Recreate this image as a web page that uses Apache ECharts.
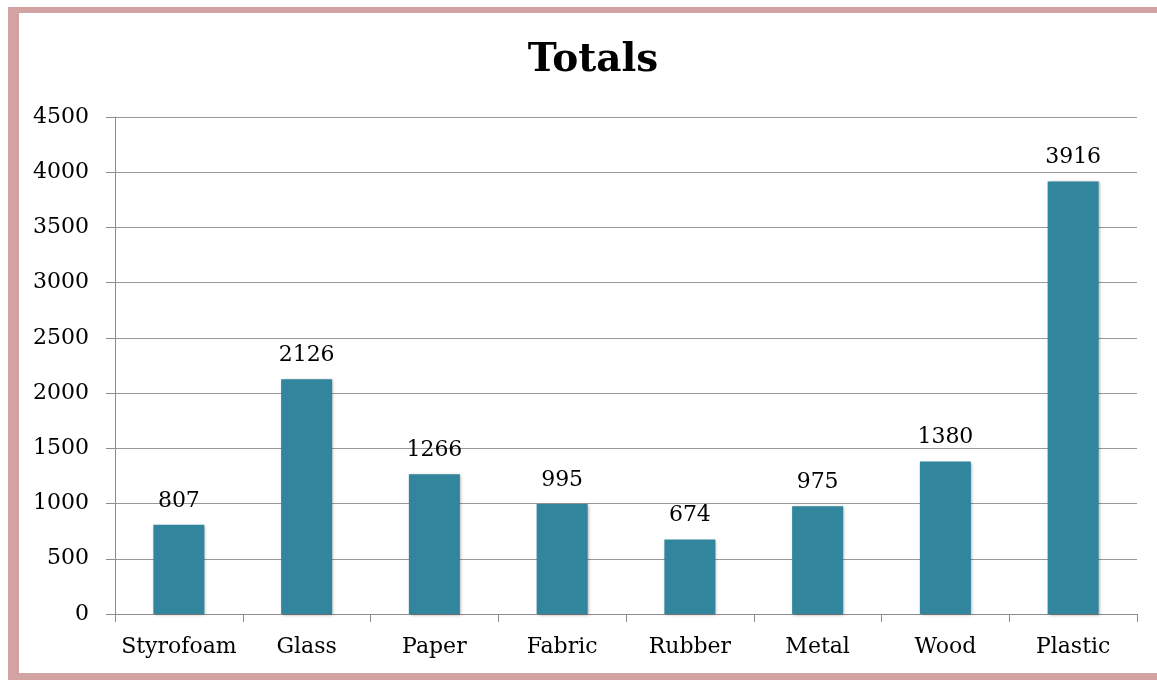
<!DOCTYPE html>
<html>
<head>
<meta charset="utf-8">
<script src="https://cdn.jsdelivr.net/npm/echarts@6/dist/echarts.min.js"></script>
<style>
  html, body { margin: 0; padding: 0; background: #ffffff; }
  #chart { width: 1157px; height: 680px; }
</style>
</head>
<body>
<div id="chart"></div>
<script>
// Material categories and their totals
const categories = ['Styrofoam', 'Glass', 'Paper', 'Fabric', 'Rubber', 'Metal', 'Wood', 'Plastic'];
const totals = [807, 2126, 1266, 995, 674, 975, 1380, 3916];
const yTicks = { min: 0, max: 4500, step: 500 };

const FONT = '"DejaVu Serif", serif';
const frameColor = '#d3a3a3';

const chart = echarts.init(document.getElementById('chart'), null, { renderer: 'canvas' });

chart.setOption({
  backgroundColor: '#ffffff',
  animation: false,
  title: {
    text: 'Totals',
    left: 588,
    top: 36,
    textAlign: 'center',
    textStyle: { fontFamily: FONT, fontWeight: 'bold', fontSize: 39, color: '#000000' }
  },
  // pink frame along the left, top and bottom edges
  graphic: [
    { type: 'rect', shape: { x: 8, y: 7, width: 11, height: 673 }, style: { fill: frameColor }, silent: true },
    { type: 'rect', shape: { x: 8, y: 7, width: 1149, height: 6 }, style: { fill: frameColor }, silent: true },
    { type: 'rect', shape: { x: 8, y: 673, width: 1149, height: 7 }, style: { fill: frameColor }, silent: true }
  ],
  grid: { left: 115, right: 20, top: 117, bottom: 66, containLabel: false },
  xAxis: {
    type: 'category',
    data: categories,
    axisLine: { show: true, lineStyle: { color: '#8c8c8c', width: 1 } },
    axisTick: { show: true, interval: 0, alignWithLabel: false, length: 8, lineStyle: { color: '#8c8c8c' } },
    axisLabel: { interval: 0, fontFamily: FONT, fontSize: 22, color: '#000000', margin: 22 }
  },
  yAxis: {
    type: 'value',
    min: yTicks.min,
    max: yTicks.max,
    interval: yTicks.step,
    axisLine: { show: true, lineStyle: { color: '#8c8c8c', width: 1 } },
    axisTick: { show: true, length: 9, lineStyle: { color: '#8c8c8c' } },
    axisLabel: {
      fontFamily: FONT, fontSize: 22, color: '#000000', margin: 26,
      formatter: (v) => String(v)
    },
    splitLine: { show: true, lineStyle: { color: '#999999', width: 1 } }
  },
  series: [{
    type: 'bar',
    data: totals,
    barWidth: 51,
    itemStyle: {
      color: '#31859c',
      shadowColor: 'rgba(0,0,0,0.35)',
      shadowBlur: 3,
      shadowOffsetX: 1,
      shadowOffsetY: 1
    },
    label: {
      show: true,
      position: 'top',
      distance: 13,
      fontFamily: FONT,
      fontSize: 22,
      color: '#000000'
    }
  }]
});
</script>
</body>
</html>
